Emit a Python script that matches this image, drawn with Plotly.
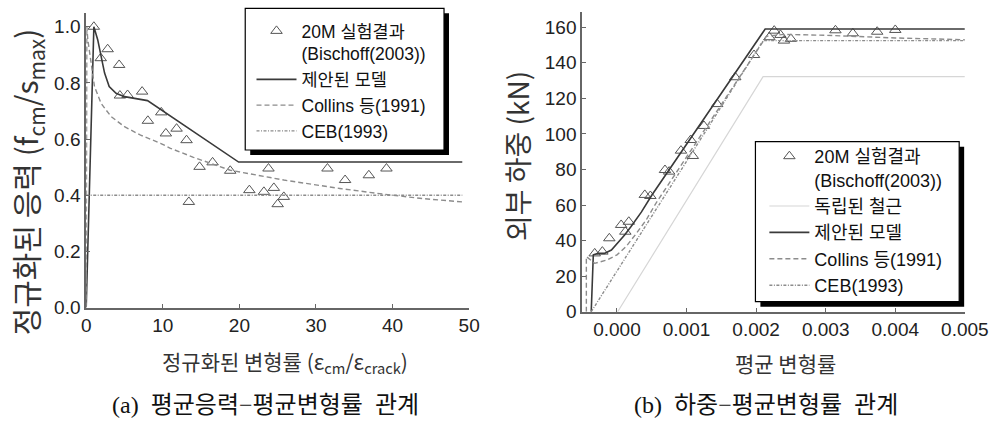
import plotly.graph_objects as go

W, H = 991, 421          # reference pixel frame used for placing things
FIG_W, FIG_H = 1014, 432  # figure size (fills the captured page)

# ---------------- (a) data ----------------
a_exp_x = [1.0, 1.9, 2.8, 4.3, 4.4, 5.4, 7.3, 8.05, 9.8, 10.4, 11.8, 13.1, 13.4, 14.8, 16.5,
           18.8, 21.3, 23.2, 23.8, 24.5, 25.0, 25.8, 31.5, 33.8, 36.9, 39.2]
a_exp_y = [1.0, 0.888, 0.92, 0.864, 0.755, 0.757, 0.769, 0.665, 0.695, 0.62, 0.637, 0.596, 0.376,
           0.501, 0.517, 0.487, 0.418, 0.412, 0.495, 0.426, 0.368, 0.394, 0.495, 0.454, 0.471, 0.495]
a_model_x = [0, 1.0, 1.5, 1.95, 2.4, 3.0, 3.9, 5.0, 8.0, 19.9, 49.1]
a_model_y = [0, 1.0, 0.954, 0.894, 0.835, 0.787, 0.763, 0.751, 0.737, 0.518, 0.518]
a_collins_x = [0, 0.08, 0.21, 0.65, 1.08, 1.95, 3.25, 5.0, 7.1, 9.7, 11.0, 14.0, 16.0, 18.8,
               25.8, 33.1, 38.7, 43.9, 49.1]
a_collins_y = [0, 1.0, 0.954, 0.870, 0.787, 0.727, 0.680, 0.644, 0.614, 0.585, 0.567, 0.535,
               0.515, 0.489, 0.454, 0.424, 0.404, 0.388, 0.376]
a_ceb_x = [0, 49.1]
a_ceb_y = [0.4, 0.4]

# ---------------- (b) data ----------------
b_exp_x = [-0.00032, -0.00021, -0.00011, 0.00006, 0.00012, 0.00017, 0.0004, 0.00048, 0.00069,
           0.00075, 0.00092, 0.00106, 0.00109, 0.00125, 0.00144, 0.0017, 0.00197, 0.00219,
           0.00226, 0.00235, 0.0024, 0.0025, 0.00314, 0.00339, 0.00374, 0.004]
b_exp_y = [32.8, 33.8, 41.3, 48.8, 45.0, 50.6, 65.7, 65.1, 79.7, 78.8, 90.6, 96.6, 87.6, 104.5,
           116.8, 131.9, 144.4, 154.4, 158.1, 155.7, 152.5, 153.5, 158.3, 156.6, 157.5, 158.5]
b_steel_x = [0.00001, 0.0021, 0.005]
b_steel_y = [0, 132.2, 132.2]
b_model_x = [-0.00037, -0.00034, -0.00027, -0.00018, -0.00008, 0.00001, 0.00011, 0.0002,
             0.00035, 0.0005, 0.00213, 0.005]
b_model_y = [0, 32.0, 32.8, 32.8, 34.7, 38.5, 43.2, 47.8, 56.0, 65.5, 159.0, 159.0]
b_collins_x = [-0.00044, -0.00044, -0.00032, -0.00015, 0.0, 0.00013, 0.00028, 0.00042, 0.00056,
               0.00215, 0.0024, 0.003, 0.004, 0.005]
b_collins_y = [0, 31.0, 27.2, 29.0, 32.0, 36.6, 44.1, 51.6, 61.0, 155.0, 156.0, 155.5, 154.0, 153.0]
b_ceb_x = [-0.00037, 0.0021, 0.005]
b_ceb_y = [0, 152.5, 152.5]

a_x_ticks = [0, 10, 20, 30, 40, 50]
a_y_ticks = [0.0, 0.2, 0.4, 0.6, 0.8, 1.0]
b_x_ticks = [0.000, 0.001, 0.002, 0.003, 0.004, 0.005]
b_y_ticks = [0, 20, 40, 60, 80, 100, 120, 140, 160]

# ---------------- helpers ----------------
def px(x):
    return x / W

def py(y):
    return 1 - y / H

LAT = "Liberation Sans, Arial, Noto Sans CJK KR, sans-serif"
KOR = "Noto Sans CJK KR, Liberation Sans, sans-serif"
SER = "Liberation Serif, Noto Sans CJK KR, serif"
NB = "\u00a0"

MARK = dict(symbol="triangle-up-open", size=10, color="#555", line=dict(width=1, color="#555"))
SOLID = dict(color="#3a3a3a", width=1.6)
DASH = dict(color="#8c8c8c", width=1.4, dash="5px,3px")
DASHDOT = dict(color="#8c8c8c", width=1.4, dash="3px,1.5px,1px,1.5px")
STEEL = dict(color="#d6d6d6", width=1.2)

fig = go.Figure()

# (a)
fig.add_trace(go.Scatter(x=a_exp_x, y=a_exp_y, mode="markers", marker=MARK,
                         name="20M 실험결과<br>(Bischoff(2003))", legend="legend",
                         xaxis="x", yaxis="y"))
fig.add_trace(go.Scatter(x=a_model_x, y=a_model_y, mode="lines", line=SOLID,
                         name="제안된 모델", legend="legend", xaxis="x", yaxis="y"))
fig.add_trace(go.Scatter(x=a_collins_x, y=a_collins_y, mode="lines", line=DASH,
                         name="Collins 등(1991)", legend="legend", xaxis="x", yaxis="y"))
fig.add_trace(go.Scatter(x=a_ceb_x, y=a_ceb_y, mode="lines", line=DASHDOT,
                         name="CEB(1993)", legend="legend", xaxis="x", yaxis="y"))

# (b)
fig.add_trace(go.Scatter(x=b_exp_x, y=b_exp_y, mode="markers", marker=MARK,
                         name="20M 실험결과<br>(Bischoff(2003))", legend="legend2",
                         xaxis="x2", yaxis="y2"))
fig.add_trace(go.Scatter(x=b_steel_x, y=b_steel_y, mode="lines", line=STEEL,
                         name="독립된 철근", legend="legend2", xaxis="x2", yaxis="y2"))
fig.add_trace(go.Scatter(x=b_model_x, y=b_model_y, mode="lines", line=SOLID,
                         name="제안된 모델", legend="legend2", xaxis="x2", yaxis="y2"))
fig.add_trace(go.Scatter(x=b_collins_x, y=b_collins_y, mode="lines", line=DASH,
                         name="Collins 등(1991)", legend="legend2", xaxis="x2", yaxis="y2"))
fig.add_trace(go.Scatter(x=b_ceb_x, y=b_ceb_y, mode="lines", line=DASHDOT,
                         name="CEB(1993)", legend="legend2", xaxis="x2", yaxis="y2"))

axis_common = dict(showgrid=False, zeroline=False, showline=True, linecolor="#666",
                   linewidth=1.8, ticks="inside", ticklen=4, tickwidth=1.2, tickcolor="#666",
                   tickfont=dict(family=LAT, size=19, color="#222"), mirror=False)

leg_common = dict(xanchor="left", yanchor="top", bgcolor="rgba(0,0,0,0)", borderwidth=0,
                  valign="top", tracegroupgap=0, itemwidth=40)

fig.update_layout(
    width=FIG_W, height=FIG_H, autosize=False, margin=dict(l=0, r=0, t=0, b=0),
    paper_bgcolor="white", plot_bgcolor="white", showlegend=True,
    xaxis=dict(axis_common, domain=[px(81.7), px(467)], range=[0, 50],
               tickvals=a_x_ticks, ticktext=[str(v) for v in a_x_ticks], anchor="y"),
    yaxis=dict(axis_common, domain=[py(307.5), py(13)], range=[0, 1.049],
               tickvals=a_y_ticks, ticktext=["%.1f" % v for v in a_y_ticks], anchor="x"),
    xaxis2=dict(axis_common, domain=[px(580.7), px(965.7)], range=[-0.0005, 0.005],
                tickvals=b_x_ticks, ticktext=["%.3f" % v for v in b_x_ticks], anchor="y2"),
    yaxis2=dict(axis_common, domain=[py(311.7), py(12)], range=[0, 168.6],
                tickvals=b_y_ticks, ticktext=[str(v) for v in b_y_ticks], anchor="x2"),
    legend=dict(leg_common, x=px(248), y=py(13), font=dict(family=LAT, size=17.5, color="#111")),
    legend2=dict(leg_common, x=px(764), y=py(138), font=dict(family=LAT, size=18, color="#111")),
)

# legend frames with drop shadows (drawn below the legend layer)
def frame(x0, y0, x1, y1, off=5):
    fig.add_shape(type="rect", xref="paper", yref="paper", layer="above",
                  x0=px(x0 + off), x1=px(x1 + off), y0=py(y1 + off), y1=py(y0 + off),
                  fillcolor="black", line=dict(width=0))
    fig.add_shape(type="rect", xref="paper", yref="paper", layer="above",
                  x0=px(x0), x1=px(x1), y0=py(y1), y1=py(y0),
                  fillcolor="white", line=dict(width=1.2, color="black"))

frame(241.7, 8.3, 441.7, 150)
frame(755, 141.7, 960, 301.7)

ann = []
def label(text, x, y, size, family=KOR, angle=0, color="#333"):
    ann.append(dict(text=text, x=px(x), y=py(y), xref="paper", yref="paper",
                    showarrow=False, textangle=angle, xanchor="center", yanchor="middle",
                    font=dict(family=family, size=size, color=color)))

label("정규화된 변형률 (ε<sub>cm</sub>/ε<sub>crack</sub>)", 282, 362, 21)
label("정규화된 응력 (f<sub>cm</sub>/s<sub>max</sub>)", 22, 181.5, 30, angle=-90)
label("평균 변형률", 785, 363, 21)
label("외부 하중 (kN)", 514.5, 155.7, 28, angle=-90)
label("(a)" + NB * 2 + "평균응력−평균변형률" + NB * 2 + "관계", 262, 405, 24, family=SER, color="#111")
label("(b)" + NB * 2 + "하중−평균변형률" + NB * 2 + "관계", 766, 405, 24, family=SER, color="#111")
fig.update_layout(annotations=ann)

fig.write_html("out.html")
